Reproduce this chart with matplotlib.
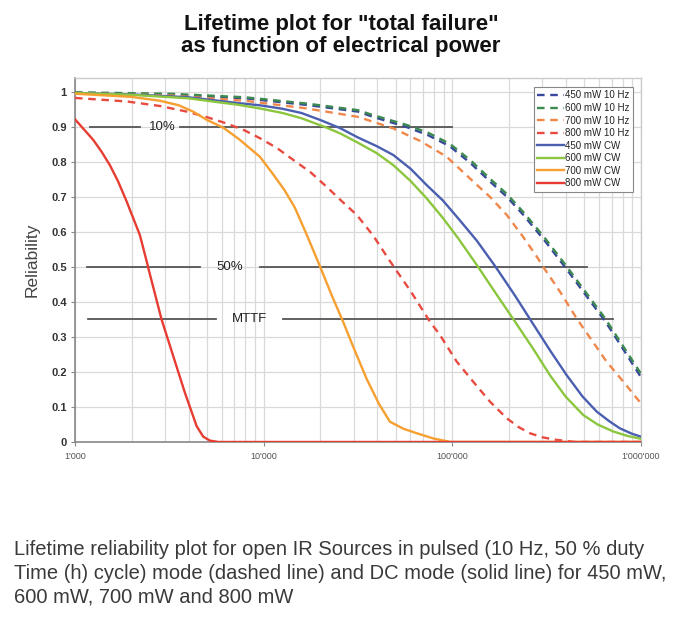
import matplotlib
matplotlib.use("Agg")
import matplotlib.pyplot as plt
from matplotlib.ticker import FixedLocator, LogLocator, NullFormatter

# ---------------- data (hours, reliability) ----------------
x_450_10hz = [1000, 3160, 7940, 16900, 31600, 38000, 57100, 74100, 97000, 125900, 158500, 195000, 237700, 309000, 395400, 501200, 645700, 794300, 1000000]
y_450_10hz = [0.998, 0.993, 0.982, 0.963, 0.944, 0.929, 0.900, 0.877, 0.845, 0.795, 0.744, 0.700, 0.649, 0.575, 0.500, 0.425, 0.345, 0.270, 0.185]

x_600_10hz = [1000, 3160, 7940, 16900, 31600, 38000, 57100, 74100, 97000, 125900, 158500, 195000, 237700, 309000, 395400, 501200, 645700, 794300, 1000000]
y_600_10hz = [0.999, 0.995, 0.985, 0.967, 0.948, 0.934, 0.906, 0.884, 0.852, 0.803, 0.752, 0.708, 0.657, 0.583, 0.508, 0.433, 0.353, 0.278, 0.195]

x_700_10hz = [1000, 3160, 7940, 16900, 31600, 48600, 67600, 93300, 129100, 158500, 194100, 234400, 280000, 303400, 371500, 456000, 549500, 656100, 812800, 1000000]
y_700_10hz = [0.997, 0.990, 0.975, 0.953, 0.929, 0.896, 0.860, 0.815, 0.744, 0.700, 0.649, 0.590, 0.530, 0.500, 0.430, 0.353, 0.290, 0.230, 0.170, 0.110]

x_800_10hz = [1000, 1880, 2818, 3908, 5012, 6368, 7943, 9550, 11750, 14350, 17780, 21580, 25700, 31120, 38020, 46670, 60260, 76030, 85900, 105400, 129100, 158500, 194100, 223900, 257600, 302000, 357300, 446700, 1000000]
y_800_10hz = [0.983, 0.973, 0.960, 0.944, 0.928, 0.910, 0.890, 0.868, 0.840, 0.806, 0.770, 0.729, 0.690, 0.649, 0.590, 0.517, 0.430, 0.344, 0.306, 0.230, 0.172, 0.115, 0.068, 0.043, 0.025, 0.013, 0.006, 0.000, 0.000]

x_450_cw = [1000, 1995, 3981, 7413, 9550, 12590, 15850, 19950, 25350, 31620, 39810, 48640, 60260, 73110, 89130, 107400, 134900, 169800, 213800, 263000, 331100, 403600, 489800, 582100, 676100, 772700, 891300, 1000000]
y_450_cw = [0.997, 0.993, 0.985, 0.968, 0.962, 0.952, 0.940, 0.920, 0.897, 0.870, 0.845, 0.820, 0.780, 0.734, 0.690, 0.639, 0.575, 0.500, 0.420, 0.344, 0.260, 0.191, 0.130, 0.087, 0.060, 0.039, 0.024, 0.015]

x_600_cw = [1000, 1995, 3981, 7413, 9550, 12590, 15850, 21130, 25350, 31620, 39810, 48640, 60260, 73110, 89130, 107400, 137100, 169800, 214800, 269200, 328900, 398100, 494300, 588800, 712800, 851100, 1000000]
y_600_cw = [0.997, 0.992, 0.982, 0.963, 0.953, 0.940, 0.925, 0.900, 0.882, 0.855, 0.825, 0.791, 0.745, 0.696, 0.640, 0.582, 0.500, 0.425, 0.344, 0.265, 0.191, 0.130, 0.077, 0.050, 0.030, 0.017, 0.009]

x_700_cw = [1000, 1995, 2818, 3548, 4227, 5012, 6109, 7413, 9550, 11220, 12880, 14620, 16980, 19950, 22910, 26300, 30200, 35160, 40740, 46670, 54950, 64710, 79430, 97720, 1000000]
y_700_cw = [0.995, 0.986, 0.975, 0.962, 0.944, 0.920, 0.898, 0.865, 0.815, 0.765, 0.720, 0.670, 0.590, 0.500, 0.420, 0.345, 0.265, 0.180, 0.110, 0.058, 0.038, 0.025, 0.010, 0.000, 0.000]

x_800_cw = [1000, 1250, 1384, 1531, 1694, 1879, 2037, 2208, 2415, 2449, 2877, 3319, 3828, 4416, 4786, 5188, 5754, 1000000]
y_800_cw = [0.922, 0.863, 0.829, 0.791, 0.744, 0.687, 0.639, 0.591, 0.510, 0.496, 0.350, 0.245, 0.140, 0.045, 0.015, 0.004, 0.000, 0.000]

series_labels = ["450 mW 10 Hz", "600 mW 10 Hz", "700 mW 10 Hz", "800 mW 10 Hz",
                 "450 mW CW", "600 mW CW", "700 mW CW", "800 mW CW"]

ref_levels = [0.9, 0.5, 0.35]
ref_labels = ["10%", "50%", "MTTF"]

x_ticks = [1000, 10000, 100000, 1000000]
x_ticklabels = ["1'000", "10'000", "100'000", "1'000'000"]
y_ticks = [0, 0.1, 0.2, 0.3, 0.4, 0.5, 0.6, 0.7, 0.8, 0.9, 1.0]
y_ticklabels = ["0", "0.1", "0.2", "0.3", "0.4", "0.5", "0.6", "0.7", "0.8", "0.9", "1"]

title = 'Lifetime plot for "total failure"\nas function of electrical power'
caption = ("Lifetime reliability plot for open IR Sources in pulsed (10 Hz, 50 % duty\n"
           "Time (h) cycle) mode (dashed line) and DC mode (solid line) for 450 mW,\n"
           "600 mW, 700 mW and 800 mW")

# ---------------- figure ----------------
plt.rcParams["font.family"] = ["Liberation Sans", "DejaVu Sans"]
fig = plt.figure(figsize=(6.83, 6.44), dpi=100, facecolor="white")
ax = fig.add_axes([0.1098, 0.3137, 0.8287, 0.5652])
ax.set_facecolor("white")

ax.set_xscale("log")
ax.set_xlim(1000, 1000000)
ax.set_ylim(0, 1.04)

ax.xaxis.set_major_locator(FixedLocator(x_ticks))
ax.xaxis.set_minor_locator(LogLocator(base=10, subs=range(2, 10)))
ax.xaxis.set_minor_formatter(NullFormatter())
ax.set_xticklabels(x_ticklabels)
ax.set_yticks(y_ticks)
ax.set_yticklabels(y_ticklabels)
ax.grid(True, which="both", axis="x", color="#d9d9d9", lw=0.9, zorder=0)
ax.grid(True, which="major", axis="y", color="#d9d9d9", lw=0.9, zorder=0)
ax.set_axisbelow(True)

ax.tick_params(axis="x", which="major", labelsize=6.5, labelcolor="#555555", length=3, color="#888888", pad=4)
ax.tick_params(axis="x", which="minor", length=0)
ax.tick_params(axis="y", labelsize=8, labelcolor="#333333", length=3, color="#888888", pad=3)
for lab in ax.get_yticklabels():
    lab.set_fontweight("semibold")

for side in ["left", "bottom"]:
    ax.spines[side].set_color("#888888")
    ax.spines[side].set_linewidth(1.2)
for side in ["top", "right"]:
    ax.spines[side].set_color("#cccccc")
    ax.spines[side].set_linewidth(1.0)

# reference lines with gaps for their labels
ref_segments = [
    [(1200, 2200), (3600, 100000)],
    [(1160, 4600), (9550, 515000)],
    [(1170, 5600), (12700, 710000)],
]
ref_text_x = [2890, 6620, 8450]
for lvl, segs, lbl, tx in zip(ref_levels, ref_segments, ref_labels, ref_text_x):
    for (a, b) in segs:
        ax.plot([a, b], [lvl, lvl], color="#555555", lw=1.3, zorder=2)
    ax.text(tx, lvl, lbl, ha="center", va="center", fontsize=9.5, color="#222222", zorder=2)

# curves
blue_d, green_d, orange_d, red_d = "#39489a", "#3d8a50", "#f0874a", "#e84a40"
blue_s, green_s, orange_s, red_s = "#4a5fb0", "#8cc63f", "#f5a030", "#e63c32"
dash = (3.2, 2.4)
lw = 1.7

series = [
    (x_450_10hz, y_450_10hz, blue_d, True),
    (x_600_10hz, y_600_10hz, green_d, True),
    (x_700_10hz, y_700_10hz, orange_d, True),
    (x_800_10hz, y_800_10hz, red_d, True),
    (x_450_cw, y_450_cw, blue_s, False),
    (x_600_cw, y_600_cw, green_s, False),
    (x_700_cw, y_700_cw, orange_s, False),
    (x_800_cw, y_800_cw, red_s, False),
]
handles = []
for (xs, ys, c, dashed), lbl in zip(series, series_labels):
    if dashed:
        h, = ax.plot(xs, ys, color=c, lw=lw, dashes=dash, label=lbl, zorder=3)
    else:
        h, = ax.plot(xs, ys, color=c, lw=lw, label=lbl, zorder=3)
    handles.append(h)

leg = ax.legend(handles=handles, loc="upper right", bbox_to_anchor=(0.986, 0.975),
                borderaxespad=0, fontsize=7, labelspacing=0.26, handlelength=2.8,
                handletextpad=0.1, borderpad=0.35, frameon=True, fancybox=False,
                edgecolor="#888888", framealpha=1)
leg.get_frame().set_linewidth(0.8)
for t in leg.get_texts():
    t.set_color("#222222")

ax.set_ylabel("Reliability", fontsize=12.5, color="#444444", labelpad=8)

fig.text(0.4995, 0.978, title, ha="center", va="top", fontsize=16,
         fontweight="bold", color="#111111", linespacing=1.08)

fig.text(0.02, 0.110, caption, ha="left", va="center", fontsize=14.5,
         color="#3a3a3a", linespacing=1.34)

fig.savefig("out.png", dpi=100, facecolor=fig.get_facecolor())
